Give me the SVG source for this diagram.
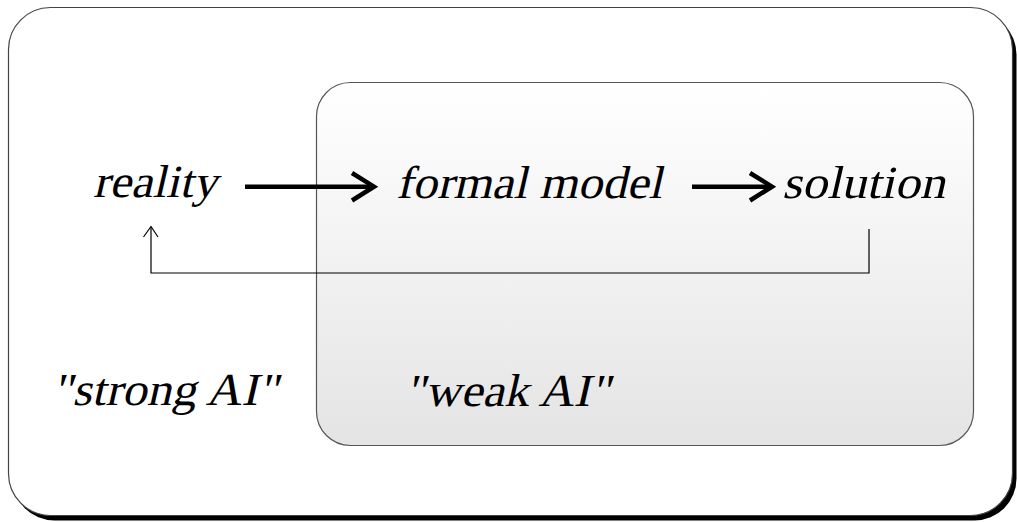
<svg xmlns="http://www.w3.org/2000/svg" width="1017" height="522" viewBox="0 0 1017 522">
<style>
.t{font-family:'Liberation Serif','Times New Roman',serif;font-size:46px;fill:#000}
.thick{fill:none;stroke:#000;stroke-width:4.5}
.thin{fill:none;stroke:#000;stroke-width:1.2}
</style>
<defs>
<linearGradient id="g" x1="0" y1="0" x2="0" y2="1">
<stop offset="0" stop-color="#ffffff"/>
<stop offset="1" stop-color="#e4e4e4"/>
</linearGradient>
</defs>
<g id="outer">
<rect x="12.5" y="12.5" width="1004" height="508" rx="42" ry="42" fill="#000"/>
<rect x="8.5" y="7.5" width="1004" height="508" rx="42" ry="42" fill="#fff" stroke="#444" stroke-width="1.2"/>
</g>
<g id="weak-box">
<rect x="316.5" y="82.5" width="657" height="363" rx="34" ry="34" fill="url(#g)" stroke="#555" stroke-width="1.2"/>
</g>
<g id="connectors">
<path class="thick" d="M245 186.7 H373"/>
<path class="thick" d="M352 173 L374 186.7 L352 200.5"/>
<path class="thick" d="M692 186.7 H771"/>
<path class="thick" d="M750 173 L772 186.7 L750 200.5"/>
<path class="thin" d="M869 229 V273 H151 V227"/>
<path class="thin" d="M143.5 237 L151 226.5 L158 237"/>
</g>
<g id="reality" transform="translate(93,197) skewX(-13)"><text class="t" x="0" y="0" textLength="124" lengthAdjust="spacingAndGlyphs">reality</text></g>
<g id="formal-model" transform="translate(396,198) skewX(-13)"><text class="t" x="0" y="0" textLength="266" lengthAdjust="spacingAndGlyphs">formal model</text></g>
<g id="solution" transform="translate(782,198) skewX(-13)"><text class="t" x="0" y="0" textLength="163" lengthAdjust="spacingAndGlyphs">solution</text></g>
<g id="strong-ai" transform="translate(52,405) skewX(-13)"><text class="t" x="0" y="0" textLength="226" lengthAdjust="spacingAndGlyphs">"strong AI"</text></g>
<g id="weak-ai" transform="translate(405,406) skewX(-13)"><text class="t" x="0" y="0" textLength="205" lengthAdjust="spacingAndGlyphs">"weak AI"</text></g>
</svg>
